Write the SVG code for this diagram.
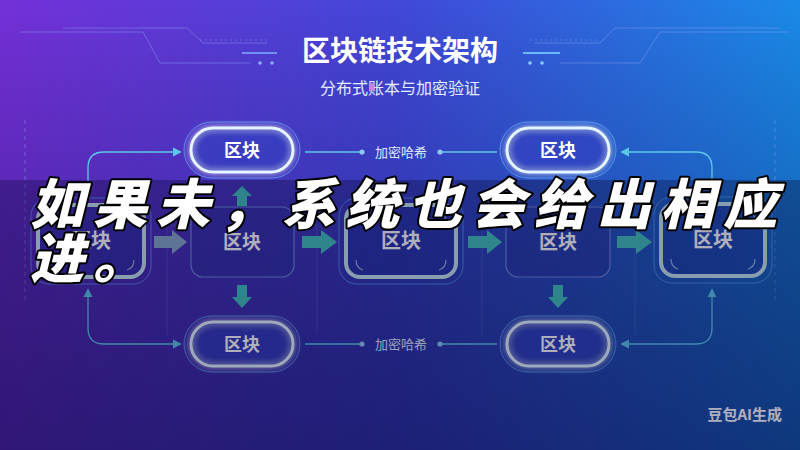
<svg xmlns="http://www.w3.org/2000/svg" width="800" height="450" viewBox="0 0 800 450">
<defs>
<linearGradient id="bgH" x1="0" y1="0" x2="1" y2="0">
<stop offset="0" stop-color="#7430d8"/>
<stop offset="0.5" stop-color="#4148d8"/>
<stop offset="1" stop-color="#1a8ae8"/>
</linearGradient>
<linearGradient id="bgV" x1="0" y1="0" x2="0" y2="1">
<stop offset="0" stop-color="#000020" stop-opacity="0"/>
<stop offset="0.5" stop-color="#0a0a50" stop-opacity="0.25"/>
<stop offset="1" stop-color="#0a0a50" stop-opacity="0.45"/>
</linearGradient>
<filter id="glow" x="-30%" y="-50%" width="160%" height="200%">
<feGaussianBlur in="SourceGraphic" stdDeviation="3" result="b"/>
<feMerge><feMergeNode in="b"/><feMergeNode in="SourceGraphic"/></feMerge>
</filter>
<marker id="ah" viewBox="0 0 10 10" refX="8" refY="5" markerWidth="7" markerHeight="7" orient="auto-start-reverse">
<path d="M0,0 L10,5 L0,10 z" fill="#5ec8e8"/>
</marker>
<marker id="dot" viewBox="0 0 6 6" refX="3" refY="3" markerWidth="4" markerHeight="4">
<circle cx="3" cy="3" r="3" fill="#8ec8f0"/>
</marker>
<style>
.pill{fill:#3040c0;fill-opacity:0.45;stroke:#e6f6ff;stroke-width:3}
.ring{fill:none;stroke:#5aa8ff;stroke-width:1;stroke-opacity:0.7}
.hi{fill:#2030a0;fill-opacity:0.45;stroke:#c6e6ee;stroke-width:4}
.lo{fill:#2a30a0;fill-opacity:0.45;stroke:#6c86d8;stroke-width:1.2}
.lbl{font-family:"Noto Sans CJK SC",sans-serif;font-weight:700;fill:#ffffff;text-anchor:middle}
.conn{fill:none;stroke:#5ec8e8;stroke-width:1.3}
.hash{font-family:"Noto Sans CJK SC",sans-serif;font-size:13px;fill:#dce8fa;text-anchor:middle}
.blk{fill:#44c0b8}
.deco{fill:none;stroke:#8aa0f0;stroke-width:1;stroke-opacity:0.45}
.corner{fill:none;stroke:#c6e6ee;stroke-width:1.2;stroke-opacity:0.7}
.frame{fill:none;stroke:#7a90e0;stroke-width:0.8;stroke-opacity:0.35}
</style>
</defs>
<rect width="800" height="450" fill="url(#bgH)"/>
<rect width="800" height="450" fill="url(#bgV)"/>

<g id="decor">
<path class="deco" d="M63,28 H187 L203,43 H267"/>
<path class="deco" d="M20,32 H143 L160,63 H250"/>
<path class="deco" d="M200,40 H270" stroke-dasharray="2 3"/>
<path d="M242,53 H277" stroke="#7aa8ff" stroke-width="2" stroke-opacity="0.8"/>
<circle cx="260" cy="63" r="1.8" fill="#8ab0ff"/>
<circle cx="272" cy="63" r="1.8" fill="#8ab0ff"/>
<path class="deco" d="M535,43 H600 L615,28 H780"/>
<path class="deco" d="M560,63 H640 L660,32 H790"/>
<path class="deco" d="M530,40 H600" stroke-dasharray="2 3"/>
<path d="M523,53 H560" stroke="#7ad0ff" stroke-width="2" stroke-opacity="0.8"/>
<circle cx="530" cy="63" r="1.8" fill="#8ad0ff"/>
<circle cx="542" cy="63" r="1.8" fill="#8ad0ff"/>
<path class="deco" d="M25,120 V300" stroke-dasharray="4 4" stroke-opacity="0.25"/>
<path class="deco" d="M775,120 V300" stroke-dasharray="4 4" stroke-opacity="0.25"/>
<path class="frame" d="M167,225 V335 M317,225 V335 M482,225 V335 M635,225 V335 M167,225 H190 M295,225 H317 M482,225 H506 M610,225 H635"/>
</g>

<g id="title">
<text x="400" y="61" font-family="Noto Sans CJK SC,sans-serif" font-weight="700" font-size="28" fill="#ffffff" text-anchor="middle">区块链技术架构</text>
<text x="400" y="94" font-family="Noto Sans CJK SC,sans-serif" font-size="16" fill="#e4ecff" text-anchor="middle">分布式账本与加密验证</text>
</g>

<g id="connectors">
<path class="conn" d="M88,190 V168 Q88,152 104,152 H180" marker-start="url(#ah)" marker-end="url(#ah)"/>
<path class="conn" d="M88,290 V328 Q88,344 104,344 H180" marker-start="url(#ah)" marker-end="url(#ah)"/>
<path class="conn" d="M712,190 V168 Q712,152 696,152 H622" marker-end="url(#ah)"/>
<path class="conn" d="M712,290 V328 Q712,344 696,344 H622" marker-start="url(#ah)" marker-end="url(#ah)"/>
<path class="conn" d="M305,152 H362" marker-end="url(#dot)"/>
<path class="conn" d="M497,152 H440" marker-end="url(#dot)"/>
<path class="conn" d="M305,344 H362" marker-end="url(#dot)"/>
<path class="conn" d="M497,344 H440" marker-end="url(#dot)"/>
<text class="hash" x="401" y="157">加密哈希</text>
<text class="hash" x="401" y="349">加密哈希</text>
<path d="M154,236 H172 V230 L187,242 L172,254 V248 H154 z" fill="#88a8c8"/>
<path class="blk" d="M302,236 H321 V230 L337,242 L321,254 V248 H302 z"/>
<path class="blk" d="M468,236 H487 V230 L502,242 L487,254 V248 H468 z"/>
<path class="blk" d="M617,236 H636 V230 L652,242 L636,254 V248 H617 z"/>
<path class="blk" d="M237,206 V196 H232 L242,186 L252,196 H247 V206 z"/>
<path class="blk" d="M553,206 V196 H548 L558,186 L568,196 H563 V206 z"/>
<path class="blk" d="M237,285 V297 H232 L242,308 L252,297 H247 V285 z"/>
<path class="blk" d="M553,285 V297 H548 L558,308 L568,297 H563 V285 z"/>
</g>

<g id="pill-top-1">
<rect class="ring" x="184" y="122" width="116" height="56" rx="28"/>
<rect class="pill" x="191" y="128" width="102" height="44" rx="22" filter="url(#glow)"/>
<text class="lbl" x="242" y="157" font-size="18">区块</text>
</g>
<g id="pill-top-2">
<rect class="ring" x="500" y="122" width="116" height="56" rx="28"/>
<rect class="pill" x="507" y="128" width="102" height="44" rx="22" filter="url(#glow)"/>
<text class="lbl" x="558" y="157" font-size="18">区块</text>
</g>

<g id="node-1">
<rect class="ring" x="31" y="198" width="120" height="86" rx="18"/>
<rect class="hi" x="38" y="205" width="106" height="72" rx="14" stroke="#b8ccd8"/>
<path class="corner" d="M48,222 Q48,214 55,212 M134,222 Q134,214 127,212 M48,260 Q48,268 55,270 M134,260 Q134,268 127,270"/>
<text class="lbl" x="91" y="248" font-size="20">区块</text>
</g>
<g id="node-2">
<rect class="lo" x="191" y="207" width="103" height="70" rx="12"/>
<text class="lbl" x="242" y="249" font-size="19">区块</text>
</g>
<g id="node-3">
<rect class="ring" x="339" y="198" width="124" height="86" rx="18"/>
<rect class="hi" x="346" y="205" width="110" height="72" rx="14"/>
<path class="corner" d="M356,222 Q356,214 363,212 M446,222 Q446,214 439,212 M356,260 Q356,268 363,270 M446,260 Q446,268 439,270"/>
<text class="lbl" x="401" y="248" font-size="20">区块</text>
</g>
<g id="node-4">
<rect class="lo" x="506" y="207" width="104" height="70" rx="12"/>
<text class="lbl" x="558" y="249" font-size="19">区块</text>
</g>
<g id="node-5">
<rect class="ring" x="654" y="197" width="118" height="86" rx="18"/>
<rect class="hi" x="661" y="204" width="104" height="72" rx="14"/>
<path class="corner" d="M671,221 Q671,213 678,211 M755,221 Q755,213 748,211 M671,259 Q671,267 678,269 M755,259 Q755,267 748,269"/>
<text class="lbl" x="713" y="247" font-size="20">区块</text>
</g>

<g id="pill-bot-1">
<rect class="ring" x="184" y="316" width="116" height="56" rx="28"/>
<rect class="pill" x="191" y="322" width="102" height="44" rx="22" filter="url(#glow)"/>
<text class="lbl" x="242" y="351" font-size="18">区块</text>
</g>
<g id="pill-bot-2">
<rect class="ring" x="500" y="316" width="116" height="56" rx="28"/>
<rect class="pill" x="507" y="322" width="102" height="44" rx="22" filter="url(#glow)"/>
<text class="lbl" x="558" y="351" font-size="18">区块</text>
</g>

<text x="782" y="420" font-family="Noto Sans CJK SC,sans-serif" font-weight="700" font-size="15" fill="#ffffff" text-anchor="end">豆包AI生成</text>

<rect id="dim" x="0" y="180" width="800" height="270" fill="#05052a" fill-opacity="0.32"/>

<g id="caption" font-family="Noto Sans CJK SC,sans-serif" font-weight="900" font-size="54" fill="#ffffff" stroke="#000000" stroke-width="4" stroke-linejoin="round" paint-order="stroke" font-style="italic">
<text x="30" y="224" letter-spacing="9">如果未，系统也会给出相应</text>
<text x="30" y="278" letter-spacing="9">进。</text>
</g>
</svg>
